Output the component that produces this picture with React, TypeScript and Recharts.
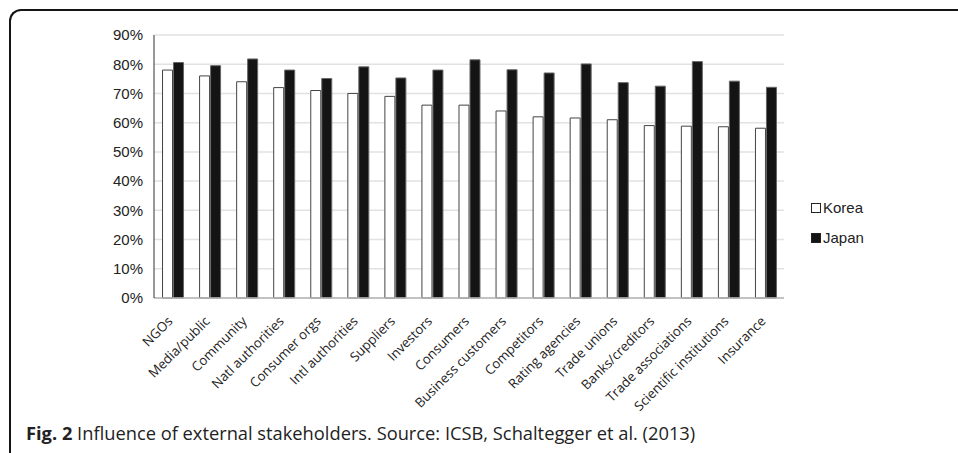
import React from 'react';
import { BarChart, Bar, XAxis, YAxis, CartesianGrid } from 'recharts';

const categories = [
  'NGOs', 'Media/public', 'Community', 'Natl authorities', 'Consumer orgs', 'Intl authorities',
  'Suppliers', 'Investors', 'Consumers', 'Business customers', 'Competitors', 'Rating agencies',
  'Trade unions', 'Banks/creditors', 'Trade associations', 'Scientific institutions', 'Insurance',
];
const korea = [78, 76, 74, 72, 71, 70, 69, 66, 66, 64, 62, 61.6, 61, 59, 58.8, 58.6, 58.1];
const japan = [80.6, 79.5, 81.8, 78, 75.1, 79.1, 75.3, 78, 81.5, 78.1, 77, 80.1, 73.7, 72.5, 80.9, 74.2, 72.1];
const yTicks = [0, 10, 20, 30, 40, 50, 60, 70, 80, 90];
const seriesNames = ['Korea', 'Japan'];

const data = categories.map((name, i) => ({ name, Korea: korea[i], Japan: japan[i] }));

const AXIS_FONT = 'Liberation Sans, Arial, sans-serif';
const LABEL_FONT = '"Open Sans", "Noto Sans", sans-serif';
const FILLS: Record<string, string> = { Korea: '#ffffff', Japan: '#141414' };

const XTick = ({ x, y, payload }: any) => (
  <g transform={`translate(${x + 1},${y + 16})`}>
    <text
      textAnchor="end"
      transform="rotate(-45)"
      fontFamily={LABEL_FONT}
      fontSize={13.2}
      fill="#222"
    >
      {payload.value}
    </text>
  </g>
);

export default function App() {
  return (
    <div style={{ position: 'absolute', left: 0, top: 0, width: 958, height: 453, background: '#fff', overflow: 'hidden' }}>
      <div
        style={{
          position: 'absolute', left: 9, top: 9, width: 960, height: 460,
          borderTop: '2.5px solid #151515', borderLeft: '2.5px solid #151515',
          borderTopLeftRadius: 12, boxSizing: 'border-box',
        }}
      />
      <div style={{ position: 'absolute', left: 0, top: 0 }}>
        <BarChart
          width={958}
          height={453}
          data={data}
          margin={{ top: 35, right: 174, left: 0, bottom: 0 }}
          barCategoryGap="23%"
          barGap={1}
        >
          <CartesianGrid vertical={false} stroke="#e2e2e2" strokeWidth={1.5} />
          <XAxis
            dataKey="name"
            interval={0}
            height={155}
            tickLine={false}
            axisLine={{ stroke: '#b5b5b5', strokeWidth: 1.5 }}
            tick={<XTick />}
          />
          <XAxis xAxisId="top" dataKey="name" orientation="top" height={0} tick={false} tickLine={false} axisLine={{ stroke: '#333' }} />
          <YAxis
            width={154}
            domain={[0, 90]}
            ticks={yTicks}
            interval={0}
            tickLine={false}
            tickSize={0}
            tickMargin={11}
            axisLine={{ stroke: '#333' }}
            tickFormatter={v => `${v}%`}
            tick={{ fontFamily: AXIS_FONT, fontSize: 15, fill: '#222' }}
          />
          <YAxis yAxisId="right" orientation="right" width={0} domain={[0, 90]} tick={false} tickLine={false} axisLine={{ stroke: '#555' }} />
          <Bar dataKey="Korea" fill={FILLS.Korea} stroke="#444" strokeWidth={1} isAnimationActive={false} />
          <Bar dataKey="Japan" fill={FILLS.Japan} stroke="#666" strokeWidth={1} isAnimationActive={false} />
        </BarChart>
      </div>
      <div
        style={{
          position: 'absolute', left: 811, top: 193, fontFamily: AXIS_FONT, fontSize: 15,
          color: '#222', lineHeight: '30px',
        }}
      >
        {seriesNames.map(name => (
          <div key={name} style={{ display: 'flex', alignItems: 'center' }}>
            <span
              style={{
                display: 'inline-block', width: 8, height: 8, background: FILLS[name],
                border: '1px solid #222', marginRight: 2,
              }}
            />
            {name}
          </div>
        ))}
      </div>
      <div
        style={{
          position: 'absolute', left: 26, top: 420, fontFamily: LABEL_FONT, fontSize: 18.3,
          color: '#222', whiteSpace: 'nowrap',
        }}
      >
        <b>Fig. 2</b> Influence of external stakeholders. Source: ICSB, Schaltegger et al. (2013)
      </div>
    </div>
  );
}
